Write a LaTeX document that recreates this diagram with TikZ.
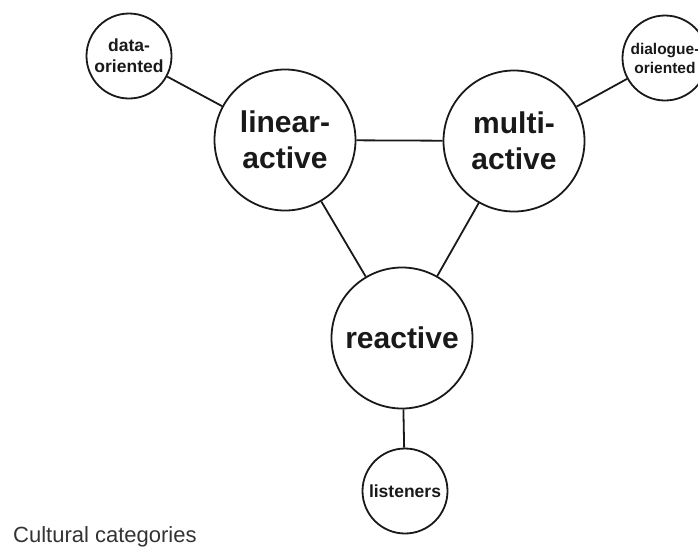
\documentclass[tikz,border=0pt]{standalone}
\usepackage{fontspec}
\setmainfont{Liberation Sans}
\begin{document}
\begin{tikzpicture}[x=1pt,y=-1pt,
  ring/.style={circle,draw=black!90,line width=1.8pt,inner sep=0pt,align=center,
    font=\bfseries,text=black!90},
  bigring/.style={ring,minimum size=141pt,font=\fontsize{30}{36}\selectfont\bfseries},
  smallring/.style={ring,minimum size=85pt,font=\fontsize{17.5}{21}\selectfont\bfseries},
  link/.style={draw=black!90,line width=1.8pt}]
\useasboundingbox (0,0) rectangle (698,547);
\clip (0,0) rectangle (698,547);

% main categories
\node[bigring] (la) at (285,140) {linear-\\active};
\node[bigring] (ma) at (514,141) {multi-\\active};
\node[bigring] (re) at (402,338) {reactive};

% satellite traits
\node[smallring] (data) at (129,56) {data-\\oriented};
\node[smallring,font=\fontsize{15.5}{19}\selectfont\bfseries] (dial) at (665,58) {dialogue-\\oriented};
\node[smallring] (list) at (405,491) {listeners};

% connections
\draw[link] (la) -- (ma);
\draw[link] (la) -- (re);
\draw[link] (ma) -- (re);
\draw[link] (data) -- (la);
\draw[link] (dial) -- (ma);
\draw[link] (re) -- (list);

% caption
\node[anchor=base west,inner sep=0pt,text=black!80,font=\fontsize{22}{26}\selectfont] (cap) at (13,542) {Cultural categories};
\end{tikzpicture}
\end{document}
